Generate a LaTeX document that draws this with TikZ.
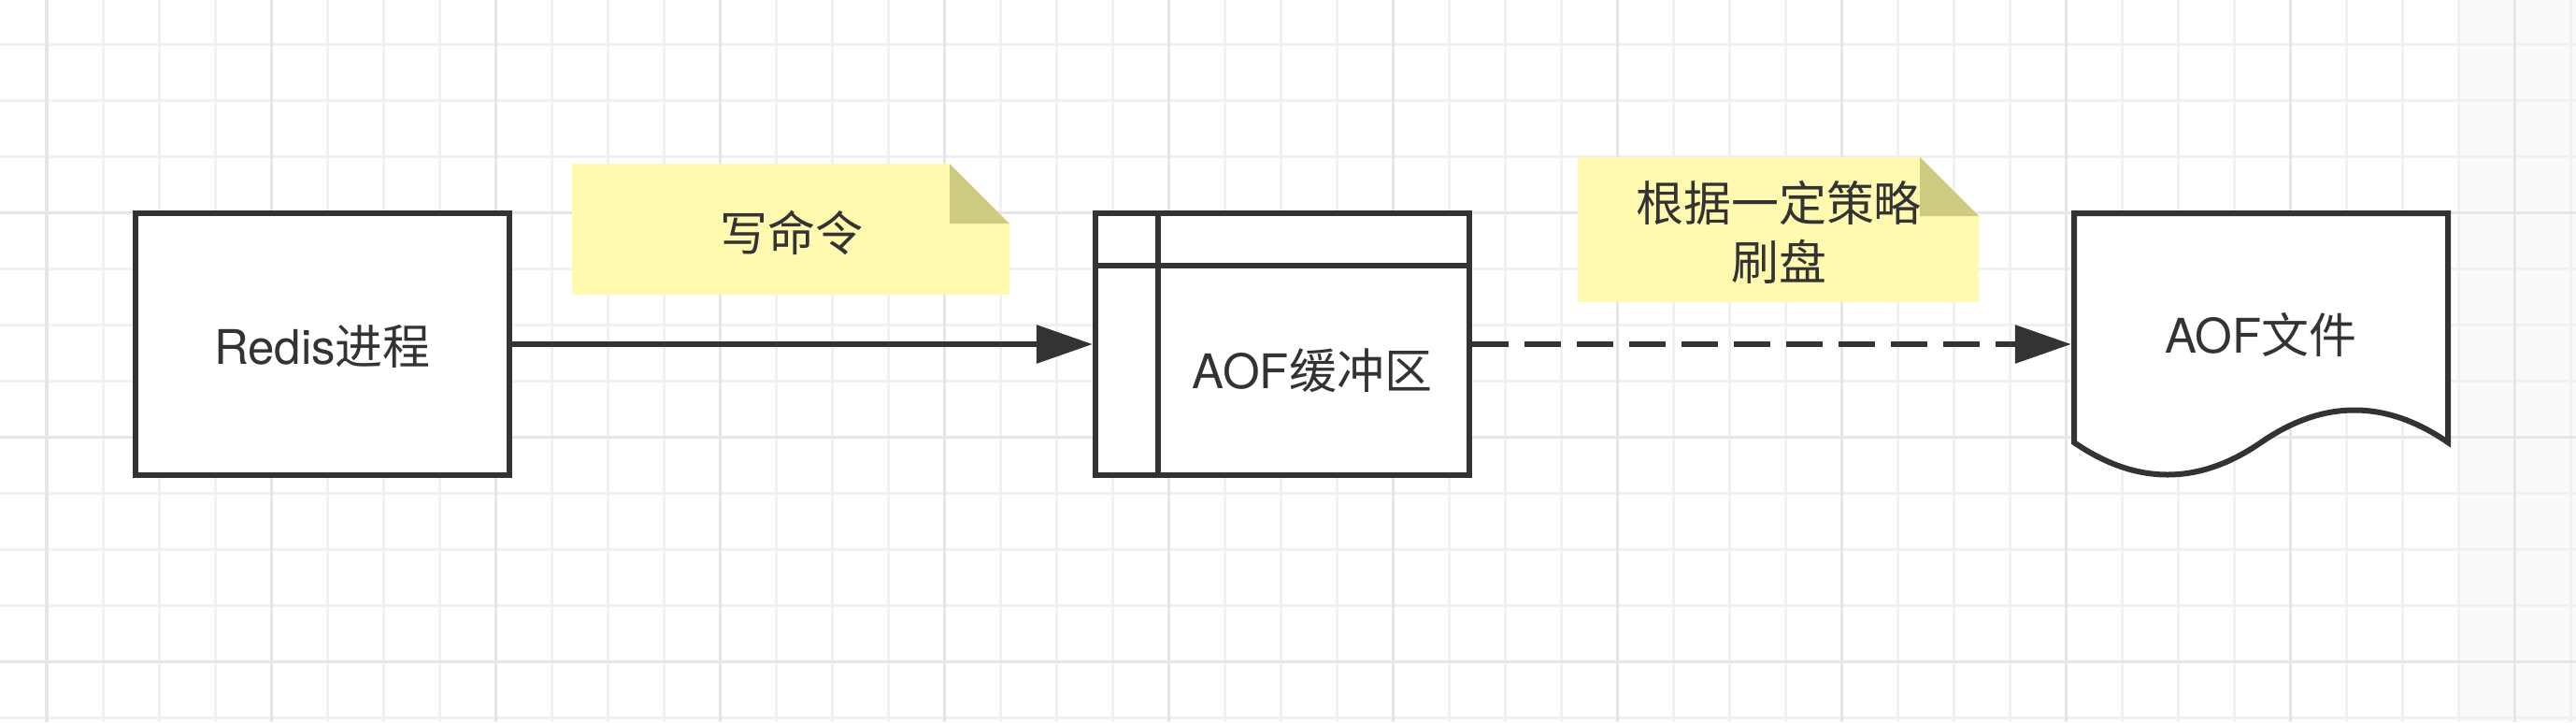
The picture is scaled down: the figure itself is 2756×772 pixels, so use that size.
\documentclass[tikz,border=0pt]{standalone}
\usepackage{fontspec}
\setmainfont{TeX Gyre Heros}
\newfontfamily\cjk{Noto Sans CJK SC}
\usetikzlibrary{arrows.meta}
\definecolor{ink}{HTML}{333333}
\definecolor{notefill}{HTML}{FFFAB0}
\definecolor{notefold}{HTML}{CDCB80}
\definecolor{gridminor}{HTML}{F1F1F1}
\definecolor{gridmajor}{HTML}{E6E6E6}
\definecolor{band}{HTML}{FAFAFA}
\begin{document}
\begin{tikzpicture}[x=0.01cm,y=-0.01cm,
  box/.style={draw=ink, line width=0.06cm, minimum width=4cm, minimum height=2.8cm, inner sep=0pt, fill=white},
  anchorbox/.style={draw=none, minimum width=4cm, minimum height=2.8cm, inner sep=0pt, outer sep=0.03cm},
  shapeline/.style={draw=ink, line width=0.06cm},
  lbl/.style={text=ink, font=\fontsize{14.5pt}{18.5pt}\selectfont, anchor=base, inner sep=0pt},
  flow/.style={draw=ink, line width=0.06cm, -{Triangle[length=0.6cm,width=0.4cm]}},
  dashflow/.style={flow, dash pattern=on 0.39cm off 0.17cm},
  minorline/.style={draw=gridminor, line width=0.03cm},
  majorline/.style={draw=gridmajor, line width=0.03cm},
]
\useasboundingbox (0,0) rectangle (2756,772);
\fill[white] (0,0) rectangle (2756,772);
\fill[band] (2630,0) rectangle (2756,772);
% grid
\foreach \i in {0,...,45} {\draw[minorline] ({50+60*\i},0) -- ({50+60*\i},772);}
\foreach \j in {0,...,12} {\draw[minorline] (0,{47+60*\j}) -- (2756,{47+60*\j});}
\foreach \i in {0,...,11} {\draw[majorline] ({50+240*\i},0) -- ({50+240*\i},772);}
\foreach \j in {0,...,3} {\draw[majorline] (0,{-13+240*\j}) -- (2756,{-13+240*\j});}

% notes
\fill[notefill] (612,175) -- (1016,175) -- (1080,239) -- (1080,315) -- (612,315) -- cycle;
\fill[notefold] (1016,175) -- (1016,239) -- (1080,239) -- cycle;
\node[lbl] (n1) at (847,268) {\cjk 写命令};

\fill[notefill] (1688,168) -- (2054,168) -- (2117,231) -- (2117,323) -- (1688,323) -- cycle;
\fill[notefold] (2054,168) -- (2054,231) -- (2117,231) -- cycle;
\node[lbl] (n2a) at (1903,236) {\cjk 根据一定策略};
\node[lbl] (n2b) at (1903,299) {\cjk 刷盘};

% Redis process
\node[box] (redis) at (345,368) {};
\node[lbl] (redistext) at (345,389) {Redis{\cjk 进程}};

% AOF buffer
\node[box] (buf) at (1372,368) {};
\draw[shapeline] (1238.5,228) -- (1238.5,508);
\draw[shapeline] (1172,283.5) -- (1572,283.5);
\node[lbl] (buftext) at (1404,415) {AOF{\cjk 缓冲区}};

% AOF file (document shape)
\node[anchorbox] (file) at (2419,368) {};
\draw[shapeline, fill=white] (2219,228) -- (2619,228) -- (2619,473)
  .. controls (2552.3,427) and (2485.7,427) .. (2419,473)
  .. controls (2352.3,519) and (2285.7,519) .. (2219,473) -- cycle;
\node[lbl] (filetext) at (2419,377) {AOF{\cjk 文件}};

% connectors
\draw[flow] (redis.east) -- (buf.west);
\draw[dashflow] (buf.east) -- (file.west);
\end{tikzpicture}
\end{document}
